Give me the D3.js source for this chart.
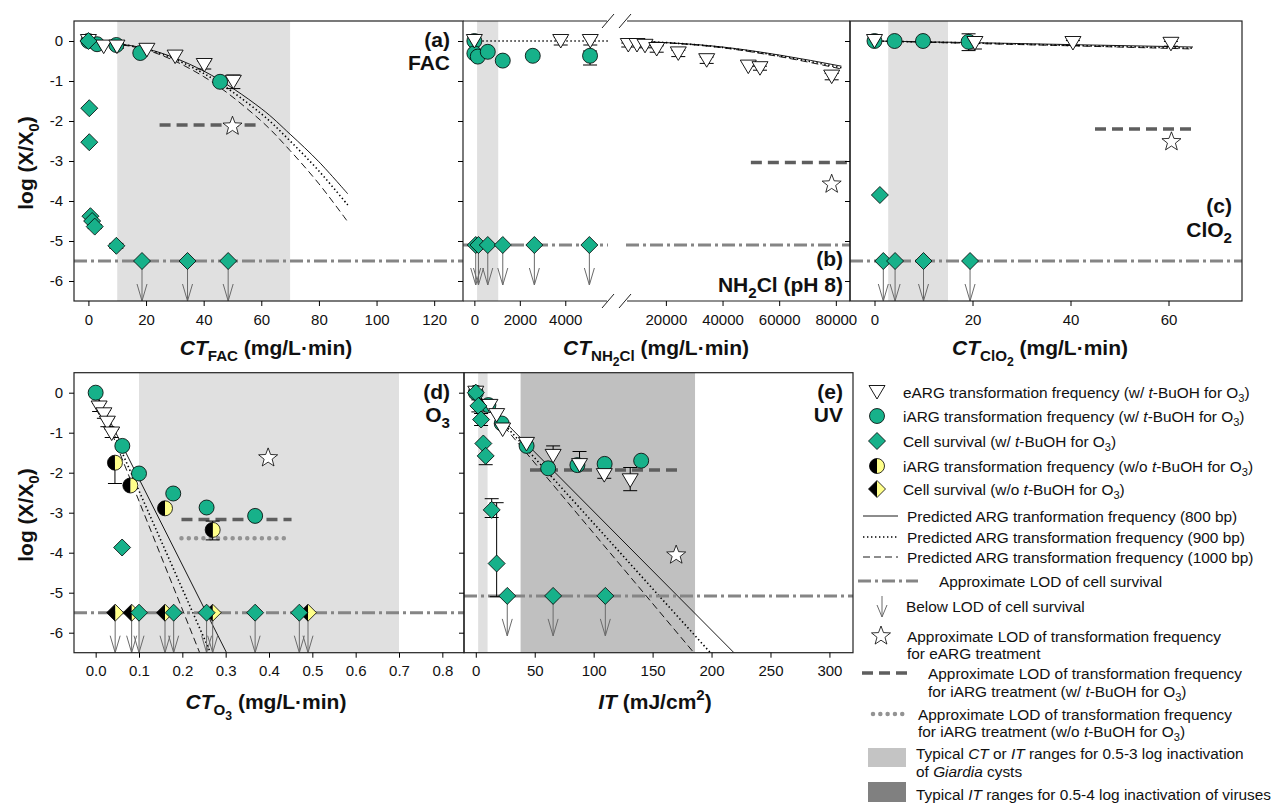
<!DOCTYPE html>
<html><head><meta charset="utf-8">
<script src="https://cdn.jsdelivr.net/npm/d3@7"></script>
<style>body{margin:0;background:#fff;} text{font-family:"Liberation Sans",Arial,sans-serif;fill:#111;}</style>
</head><body><script>
// ================= DATA =================
// point rows: [x, log(X/X0), errDown, errUp]
// ---- (a) FAC ----
const aShade = [10, 70];
const aEARG = [[0,0,0,0],[5.3,-0.14,0,0],[9.9,-0.14,0.04,0.04],[20.3,-0.22,0,0],[30.1,-0.39,0,0],[40.2,-0.6,0.1,0.1],[50.3,-1.02,0.17,0.17]];
const aIARG = [[0,0,0,0],[3,-0.08,0,0],[9.7,-0.1,0,0],[18,-0.3,0,0],[45.7,-1.02,0,0]];
const aCell = [[0,0,0,0],[0.3,-1.68,0,0],[0.3,-2.53,0,0],[0.7,-4.38,0,0],[1.3,-4.5,0,0],[2.2,-4.64,0.05,0.05],[9.7,-5.12,0.06,0.06]];
const aBelow = [18.6, 34.4, 48.5];
const aLODcell = -5.5;
const aStar = [50, -2.13];
const aLODiX = [24.7, 59.6], aLODiY = -2.1;
const aPred800  = [[0,0],[20,-0.19],[40,-0.75],[60,-1.69],[70,-2.33],[80,-3.02],[90,-3.82]];
const aPred900  = [[0,0],[20,-0.2],[40,-0.81],[60,-1.82],[70,-2.5],[80,-3.25],[90,-4.1]];
const aPred1000 = [[0,0],[20,-0.22],[40,-0.89],[60,-2.0],[70,-2.74],[80,-3.57],[90,-4.52]];
const aTicks = [0,20,40,60,80,100,120];

// ---- (b) NH2Cl ----
const bShade = [120, 1050];
const bEARG = [[0,0,0,0],[3800,0,0.1,0.1],[5100,0,0.1,0.1],[6730,-0.1,0.05,0.05],[9800,-0.1,0,0],[12630,-0.12,0.05,0.05],[16760,-0.2,0.08,0.08],[24380,-0.31,0.08,0.08],[34410,-0.48,0.08,0.08],[49090,-0.64,0,0],[53220,-0.68,0.05,0.05],[78530,-0.89,0.08,0.08]];
const bIARG = [[0,0,0,0],[0,-0.31,0,0],[150,-0.39,0,0],[590,-0.27,0,0],[1250,-0.49,0.03,0.03],[2570,-0.37,0.03,0.03],[5090,-0.37,0.23,0.12]];
const bCellBelow = [60, 180, 590, 1250, 2640, 5060];
const bLODcell = -5.1;
const bStar = [78530, -3.58];
const bLODiX = [50000, 85000], bLODiY = -3.04;
const bPredLeft = [[0,0],[5880,0]];
const bPred800  = [[5920,0],[20000,-0.04],[40000,-0.15],[60000,-0.35],[82000,-0.63]];
const bPred900  = [[5920,0],[20000,-0.04],[40000,-0.16],[60000,-0.37],[82000,-0.67]];
const bPred1000 = [[5920,0],[20000,-0.045],[40000,-0.17],[60000,-0.39],[82000,-0.7]];
const bTicks = [0,2000,4000,20000,40000,60000,80000];

// ---- (c) ClO2 ----
const cShade = [2.8, 15];
const cEARG = [[0,0,0,0],[20.5,-0.05,0.15,0.15],[40.5,-0.05,0.06,0.06],[60.5,-0.07,0.06,0.06]];
const cIARG = [[0,0,0,0],[4.1,0,0,0],[9.9,0,0,0],[19.2,-0.02,0.22,0.2]];
const cCell = [[1.1,-3.85,0,0]];
const cBelow = [1.8, 4.2, 10, 19.5];
const cLODcell = -5.5;
const cStar = [60.6, -2.52];
const cLODiX = [45, 65], cLODiY = -2.2;
const cPred800  = [[0,0],[20,-0.04],[40,-0.09],[65,-0.15]];
const cPred900  = [[0,0],[20,-0.05],[40,-0.11],[65,-0.18]];
const cPred1000 = [[0,0],[20,-0.06],[40,-0.12],[65,-0.2]];
const cTicks = [0,20,40,60];

// ---- (d) O3 ----
const dShade = [0.1, 0.7];
const dEARG = [[0.008,-0.37,0.1,0.1],[0.019,-0.54,0.1,0.1],[0.027,-0.75,0.1,0.1],[0.037,-1.02,0.1,0.1]];
const dIARG = [[0,0,0.03,0.03],[0.0615,-1.33,0.03,0.03],[0.1,-2.02,0,0],[0.179,-2.52,0.03,0.03],[0.256,-2.87,0.03,0.03],[0.368,-3.08,0,0]];
const dCell = [[0.061,-3.87,0,0]];
const dIARGnoTB = [[0.0445,-1.75,0.52,0],[0.08,-2.32,0,0],[0.16,-2.89,0,0],[0.27,-3.43,0.25,0.22]];
const dBelow = [0.1, 0.18, 0.256, 0.368, 0.47];
const dBelowNoTB = [0.045, 0.083, 0.16, 0.27, 0.49];
const dLODcell = -5.5;
const dStar = [0.398, -1.63];
const dLODiX = [0.198, 0.452], dLODiY = -3.17;
const dLODnoTBX = [0.198, 0.45], dLODnoTBY = -3.64;
const dPred800  = [[0,0],[0.302,-6.5]];
const dPred900  = [[0,0],[0.265,-6.5]];
const dPred1000 = [[0,0],[0.24,-6.5]];
const dTicks = [0,0.1,0.2,0.3,0.4,0.5,0.6,0.7,0.8];

// ---- (e) UV ----
const eShadeGiardia = [2, 10];
const eShadeVirus = [38, 186];
const eEARG = [[0,0,0,0],[12,-0.33,0,0],[17.7,-0.56,0,0],[22.8,-0.92,0,0],[43,-1.28,0.05,0],[65.6,-1.58,0,0.25],[88,-1.81,0,0.34],[109,-2.06,0.08,0],[131,-2.19,0.26,0.32]];
const eIARG = [[0,0,0,0],[10.7,-0.31,0,0],[22,-0.77,0,0],[43.1,-1.33,0,0],[61.4,-1.89,0,0],[86.2,-1.81,0,0],[109.3,-1.78,0,0],[140.3,-1.7,0,0]];
const eCell = [[0,0,0,0],[2.2,-0.33,0.15,0.15],[4.5,-0.67,0.15,0.15],[6.4,-1.27,0,0],[8.4,-1.58,0.22,0],[13.5,-2.93,0.19,0.28],[17.7,-4.27,0.83,1.52]];
const eBelow = [26.7, 65.6, 109.9];
const eLODcell = -5.08;
const eStar = [170, -4.06];
const eLODiX = [46, 171], eLODiY = -1.93;
const ePred800  = [[0,0],[219,-6.5]];
const ePred900  = [[0,0],[199,-6.5]];
const ePred1000 = [[0,0],[185,-6.5]];
const eTicks = [0,50,100,150,200,250,300];

const yTicks = [0,-1,-2,-3,-4,-5,-6];

// ================= DRAWING =================
const GREEN = "#17b18a", YEL = "#ffff8a", LODG = "#858585", DASHG = "#5e5e5e", DOTG = "#939393";
const LIGHT = "#e0e0e0", DARK = "#c0c0c0";
const svg = d3.select("body").append("svg").attr("width",1271).attr("height",803);

function makeY(y0,y1){ return d3.scaleLinear().domain([-6.5,0.5]).range([y1,y0]); }
let clipN = 0;
function clipG(x0,x1,y0,y1){
  const id = "clip"+(clipN++);
  svg.append("clipPath").attr("id",id).append("rect").attr("x",x0).attr("y",y0).attr("width",x1-x0).attr("height",y1-y0);
  return svg.append("g").attr("clip-path",`url(#${id})`);
}
function shade(g,x,y0,y1,r,col){
  g.append("rect").attr("x",x(r[0])).attr("width",x(r[1])-x(r[0])).attr("y",y0).attr("height",y1-y0).attr("fill",col);
}
const lineGen = (x,y,curve)=> d3.line().x(d=>x(d[0])).y(d=>y(d[1])).curve(curve||d3.curveLinear);
function pred(g,x,y,data,kind,curve){
  const p = g.append("path").attr("d",lineGen(x,y,curve)(data)).attr("fill","none").attr("stroke","#000");
  if(kind==="solid") p.attr("stroke-width",0.9);
  if(kind==="dot") p.attr("stroke-width",1.6).attr("stroke-dasharray","1.4,2.6");
  if(kind==="dash") p.attr("stroke-width",0.9).attr("stroke-dasharray","7,4");
}
function hline(g,x1,x2,yy,kind){
  const p = g.append("line").attr("x1",x1).attr("x2",x2).attr("y1",yy).attr("y2",yy).attr("fill","none");
  if(kind==="dashdot") p.attr("stroke",LODG).attr("stroke-width",3).attr("stroke-dasharray","13,4,3,4");
  if(kind==="dash") p.attr("stroke",DASHG).attr("stroke-width",3.5).attr("stroke-dasharray","11,6");
  if(kind==="dots") p.attr("stroke",DOTG).attr("stroke-width",4.5).attr("stroke-linecap","round").attr("stroke-dasharray","0.01,7.3");
}
function errbars(g,x,y,data){
  data.forEach(d=>{
    if(!d[2] && !d[3]) return;
    const cx=x(d[0]), a=y(d[1]-d[2]), b=y(d[1]+d[3]);
    g.append("line").attr("x1",cx).attr("x2",cx).attr("y1",a).attr("y2",b).attr("stroke","#000").attr("stroke-width",1);
    if(d[2]) g.append("line").attr("x1",cx-7).attr("x2",cx+7).attr("y1",a).attr("y2",a).attr("stroke","#000").attr("stroke-width",1);
    if(d[3]) g.append("line").attr("x1",cx-7).attr("x2",cx+7).attr("y1",b).attr("y2",b).attr("stroke","#000").attr("stroke-width",1);
  });
}
const R=7.5, H=8.5;
const triPath = "M-8,-6.5L8,-6.5L0,7Z";
function tri(g,cx,cy){ g.append("path").attr("d",triPath).attr("transform",`translate(${cx},${cy})`).attr("fill","#fff").attr("stroke","#000").attr("stroke-width",0.9); }
function circ(g,cx,cy){ g.append("circle").attr("cx",cx).attr("cy",cy).attr("r",R).attr("fill",GREEN).attr("stroke","#000").attr("stroke-width",0.8); }
function diam(g,cx,cy){ g.append("path").attr("d",`M0,${-H}L${H},0L0,${H}L${-H},0Z`).attr("transform",`translate(${cx},${cy})`).attr("fill",GREEN).attr("stroke","#000").attr("stroke-width",0.8); }
function halfCirc(g,cx,cy){
  const t=g.append("g").attr("transform",`translate(${cx},${cy})`);
  t.append("path").attr("d",`M0,${-R}A${R},${R} 0 0 1 0,${R}Z`).attr("fill",YEL);
  t.append("path").attr("d",`M0,${-R}A${R},${R} 0 0 0 0,${R}Z`).attr("fill","#000");
  t.append("circle").attr("r",R).attr("fill","none").attr("stroke","#000").attr("stroke-width",0.8);
}
function halfDiam(g,cx,cy){
  const t=g.append("g").attr("transform",`translate(${cx},${cy})`);
  t.append("path").attr("d",`M0,${-H}L${H},0L0,${H}Z`).attr("fill",YEL);
  t.append("path").attr("d",`M0,${-H}L${-H},0L0,${H}Z`).attr("fill","#000");
  t.append("path").attr("d",`M0,${-H}L${H},0L0,${H}L${-H},0Z`).attr("fill","none").attr("stroke","#000").attr("stroke-width",0.8);
}
function starPath(Ro,Ri){
  let s="";
  for(let i=0;i<10;i++){ const r=i%2?Ri:Ro; const a=-Math.PI/2+i*Math.PI/5; s+=(i?"L":"M")+(r*Math.cos(a)).toFixed(2)+","+(r*Math.sin(a)).toFixed(2); }
  return s+"Z";
}
function star(g,cx,cy){ g.append("path").attr("d",starPath(10,4.2)).attr("transform",`translate(${cx},${cy})`).attr("fill","#fff").attr("stroke","#000").attr("stroke-width",0.8); }
function arrow(g,cx,cy,len,head){
  const t=cy+len;
  g.append("line").attr("x1",cx).attr("x2",cx).attr("y1",cy).attr("y2",t).attr("stroke","#6a6a6a").attr("stroke-width",1);
  g.append("path").attr("d",`M${cx-5},${t-head}L${cx},${t}L${cx+5},${t-head}`).attr("fill","none").attr("stroke","#6a6a6a").attr("stroke-width",1);
}
function pts(g,x,y,data,fn){ data.forEach(d=>fn(g,x(d[0]),y(d[1]))); }

function rich(g,x,y,segs,size,bold,anchor){
  const t=g.append("text").attr("x",x).attr("y",y).attr("font-size",size).attr("text-anchor",anchor||"start");
  if(bold) t.attr("font-weight","bold");
  let off=0;
  segs.forEach(s=>{
    if(typeof s==="string") s={t:s};
    const ts=t.append("tspan").text(s.t);
    if(s.i) ts.attr("font-style","italic");
    let target=0;
    if(s.sub){ ts.attr("font-size",size*0.72); target=size*0.3; }
    if(s.sub2){ ts.attr("font-size",size*0.58); target=size*0.5; }
    if(s.sup){ ts.attr("font-size",size*0.72); target=-size*0.42; }
    if(target!==off){ ts.attr("dy",target-off); off=target; }
  });
  return t;
}

function yAxis(x0,y,labels){
  const ax=d3.axisLeft(y).tickValues(yTicks).tickSize(5).tickPadding(6).tickFormat(labels?(d=>String(d)):"");
  const g=svg.append("g").attr("transform",`translate(${x0},0)`).call(ax);
  g.select(".domain").remove();
  g.selectAll("text").attr("font-size",15).attr("font-family","Liberation Sans, Arial, sans-serif").attr("fill","#111");
}
function xAxis(x,y1,ticks,fmt){
  const ax=d3.axisBottom(x).tickValues(ticks).tickSize(5).tickPadding(8).tickFormat(fmt||(d=>String(d)));
  const g=svg.append("g").attr("transform",`translate(0,${y1})`).call(ax);
  g.select(".domain").remove();
  g.selectAll("text").attr("font-size",15).attr("font-family","Liberation Sans, Arial, sans-serif").attr("fill","#111");
}
function frame(x0,x1,y0,y1){
  svg.append("rect").attr("x",x0).attr("y",y0).attr("width",x1-x0).attr("height",y1-y0).attr("fill","none").attr("stroke","#222").attr("stroke-width",1.2);
}

// generic panel
function drawPanel(P){
  const {x,y,x0,x1,y0,y1}=P;
  const gc=clipG(x0,x1,y0,y1);
  P.shades.forEach(s=>shade(gc,x,y0,y1,s[0],s[1]));
  P.preds.forEach(p=>pred(gc,x,y,p[0],p[1],p[2]));
  P.lodCell.forEach(l=>hline(gc,x(l[0]),x(l[1]),y(P.lodY),"dashdot"));
  if(P.lodI) hline(gc,x(P.lodI[0][0]),x(P.lodI[0][1]),y(P.lodI[1]),"dash");
  if(P.lodN) hline(gc,x(P.lodN[0][0]),x(P.lodN[0][1]),y(P.lodN[1]),"dots");
  if(P.star) star(gc,x(P.star[0]),y(P.star[1]));
  const all=[].concat(P.tri||[],P.circ||[],P.diam||[],P.half||[]);
  errbars(gc,x,y,all);
  (P.below||[]).forEach(v=>arrow(gc,x(v),y(P.lodY),40,17));
  (P.belowN||[]).forEach(v=>arrow(gc,x(v),y(P.lodY),40,17));
  (P.belowN||[]).forEach(v=>halfDiam(gc,x(v),y(P.lodY)));
  if(P.circ) pts(gc,x,y,P.circ,circ);
  if(P.half) pts(gc,x,y,P.half,halfCirc);
  if(P.tri) pts(gc,x,y,P.tri,tri);
  if(P.diam) pts(gc,x,y,P.diam,diam);
  (P.below||[]).forEach(v=>diam(gc,x(v),y(P.lodY)));
  return gc;
}

// ---- panel (a)
const ya=makeY(21,301);
const xa=d3.scaleLinear().domain([-5,130]).range([74,463]);
drawPanel({x:xa,y:ya,x0:74,x1:463,y0:21,y1:301,
  shades:[[aShade,LIGHT]],
  preds:[[aPred800,"solid",d3.curveCatmullRom],[aPred900,"dot",d3.curveCatmullRom],[aPred1000,"dash",d3.curveCatmullRom]],
  lodCell:[[-5,130]],lodY:aLODcell,lodI:[aLODiX,aLODiY],star:aStar,
  tri:aEARG,circ:aIARG,diam:aCell,below:aBelow});

// ---- panel (b)
const yb=ya;
const xb=d3.scaleLinear().domain([-500,5880,5920,85000]).range([463,608,626,850]);
drawPanel({x:xb,y:yb,x0:463,x1:850,y0:21,y1:301,
  shades:[[bShade,LIGHT]],
  preds:[[bPredLeft,"dot"],[bPred800,"solid",d3.curveMonotoneX],[bPred900,"dot",d3.curveMonotoneX],[bPred1000,"dash",d3.curveMonotoneX]],
  lodCell:[[-500,5880],[5920,85000]],lodY:bLODcell,lodI:[bLODiX,bLODiY],star:bStar,
  circ:bIARG,tri:bEARG,below:bCellBelow});

// ---- panel (c)
const xc=d3.scaleLinear().domain([-5,75]).range([850,1242]);
drawPanel({x:xc,y:ya,x0:850,x1:1242,y0:21,y1:301,
  shades:[[cShade,LIGHT]],
  preds:[[cPred800,"solid"],[cPred900,"dot"],[cPred1000,"dash"]],
  lodCell:[[-5,75]],lodY:cLODcell,lodI:[cLODiX,cLODiY],star:cStar,
  circ:cIARG,tri:cEARG,diam:cCell,below:cBelow});

// ---- panel (d)
const yd=makeY(372.7,652.7);
const xd=d3.scaleLinear().domain([-0.05,0.85]).range([74,464]);
drawPanel({x:xd,y:yd,x0:74,x1:464,y0:372.7,y1:652.7,
  shades:[[dShade,LIGHT]],
  preds:[[dPred800,"solid"],[dPred900,"dot"],[dPred1000,"dash"]],
  lodCell:[[-0.05,0.85]],lodY:dLODcell,lodI:[dLODiX,dLODiY],lodN:[dLODnoTBX,dLODnoTBY],star:dStar,
  circ:dIARG,half:dIARGnoTB,tri:dEARG,diam:dCell,below:dBelow,belowN:dBelowNoTB});

// ---- panel (e)
const xe=d3.scaleLinear().domain([-10,320]).range([464,853]);
drawPanel({x:xe,y:yd,x0:464,x1:853,y0:372.7,y1:652.7,
  shades:[[eShadeGiardia,LIGHT],[eShadeVirus,DARK]],
  preds:[[ePred800,"solid"],[ePred900,"dot"],[ePred1000,"dash"]],
  lodCell:[[-10,320]],lodY:eLODcell,lodI:[eLODiX,eLODiY],star:eStar,
  circ:eIARG,tri:eEARG,diam:eCell,below:eBelow});

// frames & axes
frame(74,463,21,301);
frame(850,1242,21,301);
frame(74,464,372.7,652.7);
frame(464,853,372.7,652.7);
// panel b frame with axis break
[[463,607],[627,850]].forEach(s=>{
  [21,301].forEach(yy=>svg.append("line").attr("x1",s[0]).attr("x2",s[1]).attr("y1",yy).attr("y2",yy).attr("stroke","#222").attr("stroke-width",1.2));
});
svg.append("line").attr("x1",850).attr("x2",850).attr("y1",21).attr("y2",301).attr("stroke","#222").attr("stroke-width",1.2);
[608,625].forEach(bx=>[21,301].forEach(yy=>svg.append("line").attr("x1",bx-6).attr("x2",bx+6).attr("y1",yy+7).attr("y2",yy-7).attr("stroke","#222").attr("stroke-width",1)));

yAxis(74,ya,true); yAxis(463,ya,false); yAxis(850,ya,false);
yAxis(74,yd,true); yAxis(464,yd,false);
xAxis(xa,301,aTicks); xAxis(xb,301,bTicks); xAxis(xc,301,cTicks);
xAxis(xd,652.7,dTicks,d3.format(".1f")); xAxis(xe,652.7,eTicks);

// axis titles
const T=svg.append("g"), TS=21;
rich(T,266,355,[{t:"CT",i:1},{t:"FAC",sub:1}," (mg/L·min)"],TS,true,"middle");
rich(T,656,355,[{t:"CT",i:1},{t:"NH",sub:1},{t:"2",sub2:1},{t:"Cl",sub:1}," (mg/L·min)"],TS,true,"middle");
rich(T,1040,355,[{t:"CT",i:1},{t:"ClO",sub:1},{t:"2",sub2:1}," (mg/L·min)"],TS,true,"middle");
rich(T,266,709,[{t:"CT",i:1},{t:"O",sub:1},{t:"3",sub2:1}," (mg/L·min)"],TS,true,"middle");
rich(T,655,709,[{t:"IT",i:1}," (mJ/cm",{t:"2",sup:1},")"],TS,true,"middle");
[[163],[515]].forEach(c=>{
  const gg=svg.append("g").attr("transform",`translate(33,${c[0]}) rotate(-90)`);
  rich(gg,0,0,["log (X/X",{t:"0",sub:1},")"],TS,true,"middle");
});
// panel labels
rich(T,450,47,["(a)"],TS,true,"end"); rich(T,450,70,["FAC"],TS,true,"end");
rich(T,843,266,["(b)"],TS,true,"end"); rich(T,843,292,["NH",{t:"2",sub:1},"Cl (pH 8)"],TS,true,"end");
rich(T,1232,213,["(c)"],TS,true,"end"); rich(T,1232,237,["ClO",{t:"2",sub:1}],TS,true,"end");
rich(T,450,399,["(d)"],TS,true,"end"); rich(T,450,422,["O",{t:"3",sub:1}],TS,true,"end");
rich(T,843,399,["(e)"],TS,true,"end"); rich(T,843,422,["UV"],TS,true,"end");

// ================= LEGEND =================
const L=svg.append("g");
const FS=15.4, base=5.5;
const id=d3.scaleIdentity();
tri(L,877,392); rich(L,903,392+base,["eARG transformation frequency (w/ ",{t:"t",i:1},"-BuOH for O",{t:"3",sub:1},")"],FS);
circ(L,877,416); rich(L,903,416+base,["iARG transformation frequency (w/ ",{t:"t",i:1},"-BuOH for O",{t:"3",sub:1},")"],FS);
diam(L,877,441); rich(L,903,441+base,["Cell survival (w/ ",{t:"t",i:1},"-BuOH for O",{t:"3",sub:1},")"],FS);
halfCirc(L,877,466); rich(L,903,466+base,["iARG transformation frequency (w/o ",{t:"t",i:1},"-BuOH for O",{t:"3",sub:1},")"],FS);
halfDiam(L,877,489); rich(L,903,489+base,["Cell survival (w/o ",{t:"t",i:1},"-BuOH for O",{t:"3",sub:1},")"],FS);
pred(L,id,id,[[863,516],[898,516]],"solid"); rich(L,907,516+base,["Predicted ARG tranformation frequency (800 bp)"],FS);
pred(L,id,id,[[863,537],[898,537]],"dot"); rich(L,907,537+base,["Predicted ARG transformation frequency (900 bp)"],FS);
pred(L,id,id,[[863,557],[898,557]],"dash"); rich(L,907,557+base,["Predicted ARG transformation frequency (1000 bp)"],FS);
hline(L,858,918,581,"dashdot"); rich(L,939,581+base,["Approximate LOD of cell survival"],FS);
arrow(L,882,596,21,12); rich(L,906,606+base,["Below LOD of cell survival"],FS);
star(L,881,636); rich(L,907,636+base,["Approximate LOD of transformation frequency"],FS); rich(L,907,653+base,["for eARG treatment"],FS);
hline(L,862,910,673,"dash"); rich(L,928,673+base,["Approximate LOD of transformation frequency"],FS); rich(L,928,691+base,["for iARG treatment (w/ ",{t:"t",i:1},"-BuOH for O",{t:"3",sub:1},")"],FS);
hline(L,873,907,714,"dots"); rich(L,918,714+base,["Approximate LOD of transformation frequency"],FS); rich(L,918,731+base,["for iARG treatment (w/o ",{t:"t",i:1},"-BuOH for O",{t:"3",sub:1},")"],FS);
L.append("rect").attr("x",868).attr("y",748).attr("width",38).attr("height",19).attr("fill","#c4c4c4");
rich(L,916,753+base,["Typical ",{t:"CT",i:1}," or ",{t:"IT",i:1}," ranges for 0.5-3 log inactivation"],FS);
rich(L,916,771+base,["of ",{t:"Giardia",i:1}," cysts"],FS);
L.append("rect").attr("x",868).attr("y",782).attr("width",38).attr("height",20).attr("fill","#808080");
rich(L,916,794+base,["Typical ",{t:"IT",i:1}," ranges for 0.5-4 log inactivation of viruses"],FS);
</script></body></html>
